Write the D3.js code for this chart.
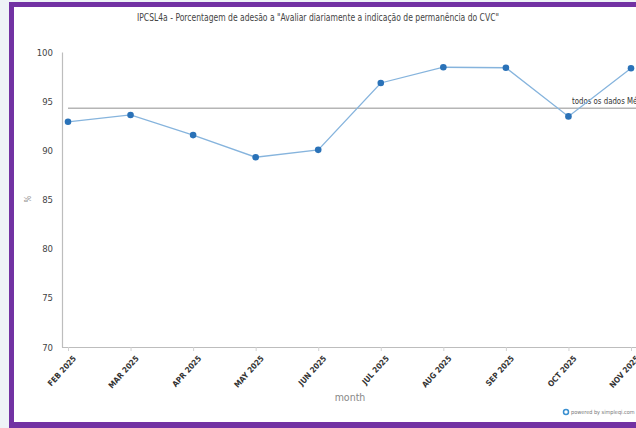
<!DOCTYPE html>
<html><head><meta charset="utf-8">
<script src="https://cdn.jsdelivr.net/npm/d3@7"></script>
<style>
html,body{margin:0;padding:0;background:#eef3f7;overflow:hidden}
svg{display:block}
</style></head>
<body>
<svg id="c" width="636" height="428"></svg>
<script>
const months = ["FEB 2025","MAR 2025","APR 2025","MAY 2025","JUN 2025","JUL 2025","AUG 2025","SEP 2025","OCT 2025","NOV 2025"];
const values = [92.9, 93.6, 91.55, 89.3, 90.05, 96.85, 98.45, 98.4, 93.45, 98.35];
const yTicks = [70, 75, 80, 85, 90, 95, 100];
const avgLabel = "todos os dados Média";
const title = "IPCSL4a - Porcentagem de adesão a \"Avaliar diariamente a indicação de permanência do CVC\"";

const svg = d3.select("#c");
// frame
svg.append("rect").attr("x",0).attr("y",0).attr("width",636).attr("height",428).attr("fill","#eef3f7");
svg.append("rect").attr("x",9).attr("y",2).attr("width",700).attr("height",500).attr("fill","#7232a3");
svg.append("rect").attr("x",14).attr("y",7).attr("width",700).attr("height",415).attr("fill","#ffffff");

const x = d3.scalePoint().domain(months).range([68, 631]).padding(0);
const y = d3.scaleLinear().domain([70, 100]).range([347, 52]);

const font = "'DejaVu Sans Condensed','Liberation Sans',sans-serif";

// title
svg.append("text").attr("x",318).attr("y",21).attr("text-anchor","middle")
  .attr("font-family",font).attr("font-size",10).attr("fill","#444")
  .attr("textLength",362).attr("lengthAdjust","spacingAndGlyphs").text(title);

// y axis
const yAxis = svg.append("g").attr("transform","translate(62,0)")
  .call(d3.axisLeft(y).tickValues(yTicks).tickSize(0).tickPadding(9));
yAxis.select(".domain").attr("stroke","#bdbdbd").attr("stroke-width",1.2);
yAxis.selectAll("text").attr("font-family",font).attr("font-size",9.5).attr("fill","#444");

// x axis
const xAxis = svg.append("g").attr("transform","translate(0,347)")
  .call(d3.axisBottom(x).tickSize(4).tickSizeOuter(0));
xAxis.select(".domain").attr("d","M62,0.5H640").attr("stroke","#bdbdbd").attr("stroke-width",1.2);
xAxis.selectAll(".tick line").attr("stroke","#d0d0d0");
xAxis.selectAll("text").attr("font-family",font).attr("font-size",8).attr("font-weight","bold").attr("fill","#333")
  .attr("text-anchor","end").attr("dy",0).attr("transform","translate(3,7) rotate(-48)");

// axis titles
svg.append("text").attr("x",350).attr("y",401).attr("text-anchor","middle")
  .attr("font-family",font).attr("font-size",10.5).attr("fill","#888").text("month");
svg.append("text").attr("transform","translate(31,199) rotate(-90)").attr("text-anchor","middle")
  .attr("font-family",font).attr("font-size",8).attr("fill","#888").text("%");

// average line
const avg = d3.mean(values);
svg.append("line").attr("x1",68).attr("x2",640).attr("y1",y(avg)).attr("y2",y(avg))
  .attr("stroke","#b5b5b5").attr("stroke-width",1.5);
svg.append("text").attr("x",572).attr("y",y(avg)-4).attr("font-family",font).attr("font-size",8)
  .attr("fill","#333").attr("textLength",76).attr("lengthAdjust","spacingAndGlyphs").text(avgLabel);

// series line
const line = d3.line().x((d,i)=>x(months[i])).y(d=>y(d));
svg.append("path").datum(values).attr("d",line).attr("fill","none")
  .attr("stroke","#86b4dd").attr("stroke-width",1.3);
svg.selectAll("circle.pt").data(values).enter().append("circle").attr("class","pt")
  .attr("cx",(d,i)=>x(months[i])).attr("cy",d=>y(d)).attr("r",3.3).attr("fill","#2a72b8");

// powered by
svg.append("circle").attr("cx",566).attr("cy",412).attr("r",2.5).attr("fill","none").attr("stroke","#3a8fd0").attr("stroke-width",1.5);
svg.append("text").attr("x",571).attr("y",414).attr("font-family",font).attr("font-size",5.5)
  .attr("fill","#777").text("powered by simpleqi.com");
</script>
</body></html>
